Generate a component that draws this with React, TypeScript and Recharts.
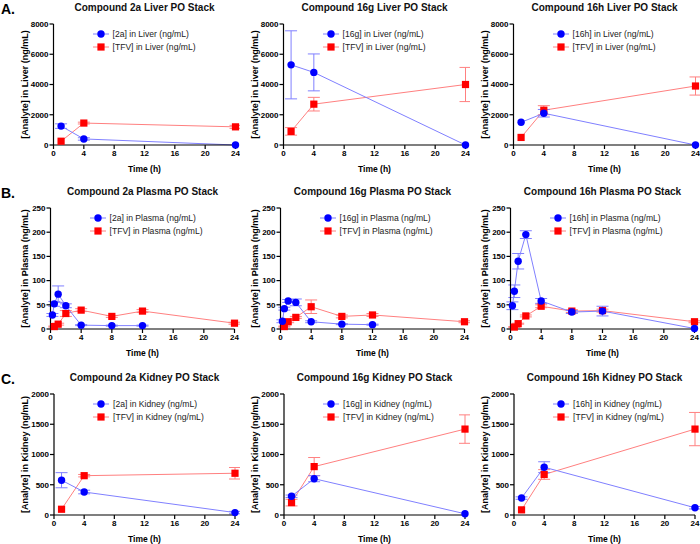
import { LineChart, Line, XAxis, YAxis, ErrorBar, Label } from "recharts";

const FONT = "Arial, 'Liberation Sans', sans-serif";
const BLUE = "#0000ff";
const RED = "#ff0000";
const BLUE_LINE = "#8080ff";
const RED_LINE = "#ff8080";

// time points (h)
const TISSUE_TIMES = [1, 4, 24];
const PLASMA_CMPD_TIMES = [0.25, 0.5, 1, 2, 4, 8, 12];
const PLASMA_16H_TIMES = [0.25, 0.5, 1, 2, 4, 8, 12, 24];
const PLASMA_TFV_TIMES = [0.5, 1, 2, 4, 8, 12, 24];
const X_TICKS = [0, 4, 8, 12, 16, 20, 24];

// liver (ng/mL)
const LIVER_2A = [1250, 400, 0];
const LIVER_2A_ERR = [150, 80, 0];
const LIVER_2A_TFV = [250, 1450, 1200];
const LIVER_2A_TFV_ERR = [0, 60, 100];
const LIVER_16G = [5300, 4800, 0];
const LIVER_16G_ERR = [2250, 1220, 0];
const LIVER_16G_TFV = [900, 2700, 4000];
const LIVER_16G_TFV_ERR = [250, 450, 1130];
const LIVER_16H = [1500, 2100, 0];
const LIVER_16H_ERR = [0, 250, 0];
const LIVER_16H_TFV = [500, 2300, 3900];
const LIVER_16H_TFV_ERR = [0, 300, 600];

// plasma (ng/mL)
const PLASMA_2A = [29, 52, 72, 48, 8, 7, 7];
const PLASMA_2A_ERR = [3, 5, 17, 4, 1, 1, 1];
const PLASMA_2A_TFV = [5, 10, 32, 39, 26, 37, 12];
const PLASMA_2A_TFV_ERR = [1, 2, 6, 3, 2, 3, 2];
const PLASMA_16G = [16, 42, 58, 55, 15, 10, 9];
const PLASMA_16G_ERR = [3, 3, 3, 7, 2, 1, 1];
const PLASMA_16G_TFV = [5, 15, 24, 46, 26, 29, 15];
const PLASMA_16G_TFV_ERR = [1, 2, 2, 14, 3, 3, 2];
const PLASMA_16H = [48, 78, 140, 195, 58, 35, 37, 1];
const PLASMA_16H_ERR = [8, 13, 16, 8, 5, 3, 10, 0];
const PLASMA_16H_TFV = [4, 11, 27, 47, 37, 38, 15];
const PLASMA_16H_TFV_ERR = [1, 1, 2, 3, 3, 3, 2];

// kidney (ng/mL)
const KIDNEY_2A = [575, 380, 40];
const KIDNEY_2A_ERR = [125, 30, 20];
const KIDNEY_2A_TFV = [95, 650, 690];
const KIDNEY_2A_TFV_ERR = [0, 20, 95];
const KIDNEY_16G = [310, 600, 20];
const KIDNEY_16G_ERR = [20, 50, 0];
const KIDNEY_16G_TFV = [205, 800, 1420];
const KIDNEY_16G_TFV_ERR = [55, 150, 235];
const KIDNEY_16H = [280, 790, 120];
const KIDNEY_16H_ERR = [20, 90, 20];
const KIDNEY_16H_TFV = [85, 670, 1420];
const KIDNEY_16H_TFV_ERR = [0, 80, 275];

const LIVER_TICKS = [0, 2000, 4000, 6000, 8000];
const PLASMA_TICKS = [0, 50, 100, 150, 200, 250];
const KIDNEY_TICKS = [0, 500, 1000, 1500, 2000];

const ROW_TOPS = [0, 184, 370];
const COL_LEFTS = [0, 230, 460];
const PLOT_LEFT = [53.5, 50.5, 54];
const PLOT_W = [182, 184, 181];
const ROW_LETTERS = ["A.", "B.", "C."];

const toPts = (ts: number[], vs: number[], es: number[]) =>
  ts.map((t, i) => ({ t, v: vs[i], e: es[i] }));

const circleDot = (p: any) => <circle key={`c${p.index}`} cx={p.cx} cy={p.cy} r={3.7} fill={BLUE} />;
const squareDot = (p: any) => (
  <rect key={`s${p.index}`} x={p.cx - 3.6} y={p.cy - 3.6} width={7.2} height={7.2} fill={RED} />
);

function LegendIcon({ square }: { square: boolean }) {
  return (
    <svg width={16} height={10} style={{ display: "block" }}>
      <line x1={0} x2={16} y1={5} y2={5} stroke={square ? RED_LINE : BLUE_LINE} strokeWidth={1} />
      {square ? <rect x={4.4} y={1.4} width={7.2} height={7.2} fill={RED} /> : <circle cx={8} cy={5} r={3.7} fill={BLUE} />}
    </svg>
  );
}

type PanelProps = {
  row: number;
  col: number;
  title: string;
  yLabel: string;
  yTicks: number[];
  cmpdName: string;
  tfvName: string;
  cmpd: { t: number; v: number; e: number }[];
  tfv: { t: number; v: number; e: number }[];
};

function Panel({ row, col, title, yLabel, yTicks, cmpdName, tfvName, cmpd, tfv }: PanelProps) {
  const pl = PLOT_LEFT[row];
  const pw = PLOT_W[row];
  const marginLeft = pl - 50;
  const yMax = yTicks[yTicks.length - 1];
  return (
    <div style={{ position: "absolute", left: COL_LEFTS[col], top: ROW_TOPS[row], width: 240, height: 176 }}>
      <div
        style={{
          position: "absolute", left: pl, width: pw, top: 2, textAlign: "center",
          fontSize: 10, lineHeight: "12px", fontWeight: "bold", color: "#111", whiteSpace: "nowrap",
        }}
      >
        {title}
      </div>
      <LineChart width={240} height={176} margin={{ top: 24, right: 240 - pl - pw, bottom: 0, left: marginLeft }}>
        <XAxis
          type="number" dataKey="t" domain={[0, 24]} ticks={X_TICKS} height={31}
          axisLine={{ stroke: "#000", strokeWidth: 1.2 }} tickLine={{ stroke: "#000", strokeWidth: 1.2 }}
          tickSize={4} tickMargin={1}
          tick={{ fill: "#000", fontSize: 8, fontWeight: "bold", fontFamily: FONT }}
        >
          <Label value="Time (h)" position="insideBottom" offset={4}
            style={{ fontSize: 8.5, fontWeight: "bold", fontFamily: FONT, fill: "#000" }} />
        </XAxis>
        <YAxis
          type="number" domain={[0, yMax]} ticks={yTicks} width={50}
          axisLine={{ stroke: "#000", strokeWidth: 1.2 }} tickLine={{ stroke: "#000", strokeWidth: 1.2 }}
          tickSize={4} tickMargin={1}
          tick={{ fill: "#000", fontSize: 8, fontWeight: "bold", fontFamily: FONT }}
        >
          <Label value={yLabel} angle={-90} position="insideLeft" offset={25 - marginLeft}
            style={{ textAnchor: "middle", fontSize: 9, fontWeight: "bold", fontFamily: FONT, fill: "#000" }} />
        </YAxis>
        <Line data={tfv} dataKey="v" stroke={RED_LINE} strokeWidth={1} dot={squareDot} activeDot={false}
          isAnimationActive={false}>
          <ErrorBar dataKey="e" width={6} stroke={RED_LINE} strokeWidth={1} direction="y" />
        </Line>
        <Line data={cmpd} dataKey="v" stroke={BLUE_LINE} strokeWidth={1} dot={circleDot} activeDot={false}
          isAnimationActive={false}>
          <ErrorBar dataKey="e" width={6} stroke={BLUE_LINE} strokeWidth={1} direction="y" />
        </Line>
      </LineChart>
      <div style={{ position: "absolute", left: pl + 39, top: 27, fontSize: 8.6, fontFamily: FONT, color: "#222" }}>
        {[cmpdName, tfvName].map((name, i) => (
          <div key={name} style={{ display: "flex", alignItems: "center", height: 13 }}>
            <LegendIcon square={i === 1} />
            <span style={{ marginLeft: 4, whiteSpace: "nowrap" }}>{name}</span>
          </div>
        ))}
      </div>
    </div>
  );
}

export default function App() {
  return (
    <div style={{ position: "absolute", left: 0, top: 0, width: 700, height: 544, background: "#fff", fontFamily: FONT, overflow: "hidden" }}>
      {ROW_LETTERS.map((l, i) => (
        <div key={l} style={{ position: "absolute", left: 1, top: ROW_TOPS[i] + 1, fontSize: 14, lineHeight: "16px", fontWeight: "bold" }}>
          {l}
        </div>
      ))}
      <Panel row={0} col={0} title="Compound 2a Liver PO Stack" yLabel="[Analyte] in Liver (ng/mL)" yTicks={LIVER_TICKS}
        cmpdName="[2a] in Liver (ng/mL)" tfvName="[TFV] in Liver (ng/mL)"
        cmpd={toPts(TISSUE_TIMES, LIVER_2A, LIVER_2A_ERR)} tfv={toPts(TISSUE_TIMES, LIVER_2A_TFV, LIVER_2A_TFV_ERR)} />
      <Panel row={0} col={1} title="Compound 16g Liver PO Stack" yLabel="[Analyte] in Liver (ng/mL)" yTicks={LIVER_TICKS}
        cmpdName="[16g] in Liver (ng/mL)" tfvName="[TFV] in Liver (ng/mL)"
        cmpd={toPts(TISSUE_TIMES, LIVER_16G, LIVER_16G_ERR)} tfv={toPts(TISSUE_TIMES, LIVER_16G_TFV, LIVER_16G_TFV_ERR)} />
      <Panel row={0} col={2} title="Compound 16h Liver PO Stack" yLabel="[Analyte] in Liver (ng/mL)" yTicks={LIVER_TICKS}
        cmpdName="[16h] in Liver (ng/mL)" tfvName="[TFV] in Liver (ng/mL)"
        cmpd={toPts(TISSUE_TIMES, LIVER_16H, LIVER_16H_ERR)} tfv={toPts(TISSUE_TIMES, LIVER_16H_TFV, LIVER_16H_TFV_ERR)} />

      <Panel row={1} col={0} title="Compound 2a Plasma PO Stack" yLabel="[Analyte] in Plasma (ng/mL)" yTicks={PLASMA_TICKS}
        cmpdName="[2a] in Plasma (ng/mL)" tfvName="[TFV] in Plasma (ng/mL)"
        cmpd={toPts(PLASMA_CMPD_TIMES, PLASMA_2A, PLASMA_2A_ERR)} tfv={toPts(PLASMA_TFV_TIMES, PLASMA_2A_TFV, PLASMA_2A_TFV_ERR)} />
      <Panel row={1} col={1} title="Compound 16g Plasma PO Stack" yLabel="[Analyte] in Plasma (ng/mL)" yTicks={PLASMA_TICKS}
        cmpdName="[16g] in Plasma (ng/mL)" tfvName="[TFV] in Plasma (ng/mL)"
        cmpd={toPts(PLASMA_CMPD_TIMES, PLASMA_16G, PLASMA_16G_ERR)} tfv={toPts(PLASMA_TFV_TIMES, PLASMA_16G_TFV, PLASMA_16G_TFV_ERR)} />
      <Panel row={1} col={2} title="Compound 16h Plasma PO Stack" yLabel="[Analyte] in Plasma (ng/mL)" yTicks={PLASMA_TICKS}
        cmpdName="[16h] in Plasma (ng/mL)" tfvName="[TFV] in Plasma (ng/mL)"
        cmpd={toPts(PLASMA_16H_TIMES, PLASMA_16H, PLASMA_16H_ERR)} tfv={toPts(PLASMA_TFV_TIMES, PLASMA_16H_TFV, PLASMA_16H_TFV_ERR)} />

      <Panel row={2} col={0} title="Compound 2a Kidney PO Stack" yLabel="[Analyte] in Kidney (ng/mL)" yTicks={KIDNEY_TICKS}
        cmpdName="[2a] in Kidney (ng/mL)" tfvName="[TFV] in Kidney (ng/mL)"
        cmpd={toPts(TISSUE_TIMES, KIDNEY_2A, KIDNEY_2A_ERR)} tfv={toPts(TISSUE_TIMES, KIDNEY_2A_TFV, KIDNEY_2A_TFV_ERR)} />
      <Panel row={2} col={1} title="Compound 16g Kidney PO Stack" yLabel="[Analyte] in Kidney (ng/mL)" yTicks={KIDNEY_TICKS}
        cmpdName="[16g] in Kidney (ng/mL)" tfvName="[TFV] in Kidney (ng/mL)"
        cmpd={toPts(TISSUE_TIMES, KIDNEY_16G, KIDNEY_16G_ERR)} tfv={toPts(TISSUE_TIMES, KIDNEY_16G_TFV, KIDNEY_16G_TFV_ERR)} />
      <Panel row={2} col={2} title="Compound 16h Kidney PO Stack" yLabel="[Analyte] in Kidney (ng/mL)" yTicks={KIDNEY_TICKS}
        cmpdName="[16h] in Kidney (ng/mL)" tfvName="[TFV] in Kidney (ng/mL)"
        cmpd={toPts(TISSUE_TIMES, KIDNEY_16H, KIDNEY_16H_ERR)} tfv={toPts(TISSUE_TIMES, KIDNEY_16H_TFV, KIDNEY_16H_TFV_ERR)} />
    </div>
  );
}
